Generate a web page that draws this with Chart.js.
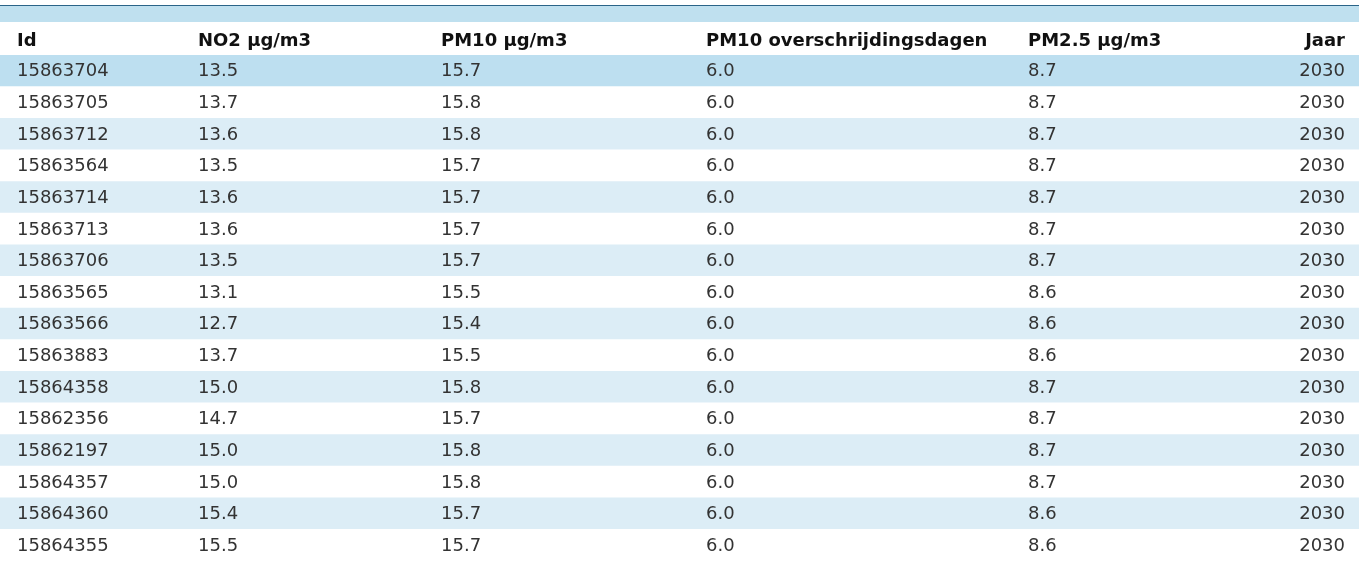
<!DOCTYPE html>
<html><head><meta charset="utf-8">
<script src="https://cdn.jsdelivr.net/npm/chart.js@4/dist/chart.umd.min.js"></script>
<style>html,body{margin:0;padding:0;background:#fff}#w{width:1359px;height:564px}</style>
</head><body><div id="w"><canvas id="c"></canvas></div>
<script>
const headers = ["Id","NO2 µg/m3","PM10 µg/m3","PM10 overschrijdingsdagen","PM2.5 µg/m3","Jaar"];
const ids = ["15863704","15863705","15863712","15863564","15863714","15863713","15863706","15863565","15863566","15863883","15864358","15862356","15862197","15864357","15864360","15864355"];
const no2 = [13.5,13.7,13.6,13.5,13.6,13.6,13.5,13.1,12.7,13.7,15.0,14.7,15.0,15.0,15.4,15.5];
const pm10 = [15.7,15.8,15.8,15.7,15.7,15.7,15.7,15.5,15.4,15.5,15.8,15.7,15.8,15.8,15.7,15.7];
const pm10days = [6.0,6.0,6.0,6.0,6.0,6.0,6.0,6.0,6.0,6.0,6.0,6.0,6.0,6.0,6.0,6.0];
const pm25 = [8.7,8.7,8.7,8.7,8.7,8.7,8.7,8.6,8.6,8.6,8.7,8.7,8.7,8.7,8.6,8.6];
const jaar = [2030,2030,2030,2030,2030,2030,2030,2030,2030,2030,2030,2030,2030,2030,2030,2030];

const colX = [17,198,441,706,1028,1345];
const font = '18px "DejaVu Sans"';
const rowColors = ids.map((_,i)=> i===0 ? '#bddff0' : (i%2===0 ? '#dcedf6' : '#ffffff'));

const tablePlugin = {
  id:'table',
  beforeDatasetsDraw(chart){
    const ctx = chart.ctx, W = chart.width;
    ctx.save();
    ctx.fillStyle='#2a6488'; ctx.fillRect(0,5,W,1);
    ctx.fillStyle='#bfe0ef'; ctx.fillRect(0,6,W,16);
    ctx.restore();
  },
  afterDatasetsDraw(chart){
    const ctx = chart.ctx, y = chart.scales.y;
    ctx.save();
    ctx.fillStyle='#111';
    ctx.textBaseline='middle';
    ctx.font = 'bold ' + font;
    headers.forEach((h,j)=>{
      ctx.textAlign = j===5 ? 'right':'left';
      ctx.fillText(h, colX[j], 41);
    });
    ctx.font = font; ctx.fillStyle='#333';
    const fmt = v => v.toFixed(1);
    ids.forEach((id,i)=>{
      const py = y.getPixelForValue(i);
      const cells = [id, fmt(no2[i]), fmt(pm10[i]), fmt(pm10days[i]), fmt(pm25[i]), String(jaar[i])];
      cells.forEach((t,j)=>{
        ctx.textAlign = j===5 ? 'right':'left';
        ctx.fillText(t, colX[j], py+1);
      });
    });
    ctx.restore();
  }
};

new Chart(document.getElementById('c'),{
  type:'bar',
  data:{labels:ids,datasets:[{data:ids.map(()=>1),backgroundColor:rowColors,barPercentage:1,categoryPercentage:1,borderWidth:0}]},
  options:{
    indexAxis:'y',responsive:true,maintainAspectRatio:false,animation:false,
    layout:{padding:{top:55,bottom:3,left:0,right:0}},
    plugins:{legend:{display:false},tooltip:{enabled:false}},
    scales:{x:{display:false,min:0,max:1},y:{display:false}}
  },
  plugins:[tablePlugin]
});
</script></body></html>
